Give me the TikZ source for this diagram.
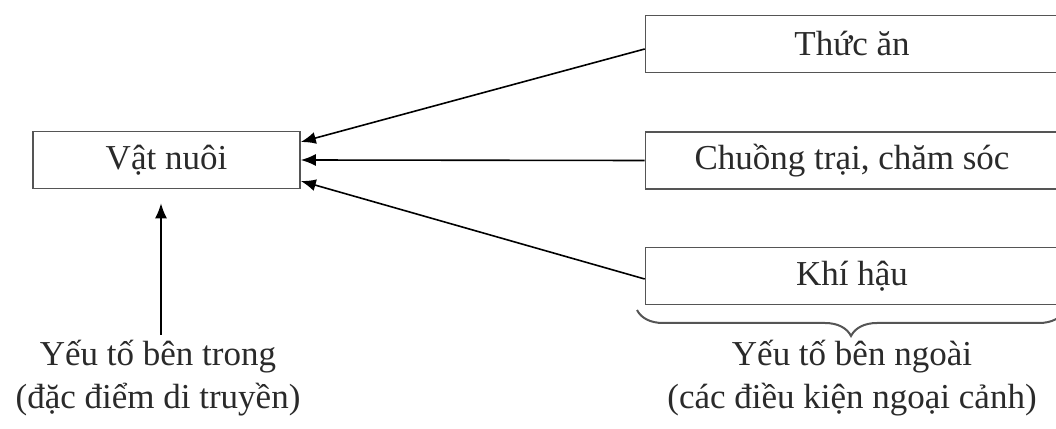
\documentclass[tikz,border=0pt]{standalone}
\usepackage{fontspec}
\setmainfont{Liberation Serif}
\usetikzlibrary{arrows.meta,decorations.pathreplacing}
\definecolor{boxline}{HTML}{555555}
\definecolor{txt}{HTML}{2A2A2A}
\begin{document}
\begin{tikzpicture}[x=1pt,y=1pt,
  every node/.style={font=\fontsize{35}{43}\selectfont, text=txt},
  factorbox/.style={draw=boxline, line width=1.6pt, minimum height=57pt, inner sep=0pt, anchor=center},
  arr/.style={draw=black, line width=1.6pt, -{Latex[length=15pt,width=12pt]}},
  label/.style={align=center, inner sep=0pt}]
\useasboundingbox (0,0) rectangle (1056,428);
\clip (0,0) rectangle (1056,428);
\node[factorbox, minimum width=267pt] (vat) at (166.5,268) {Vật nuôi};
\node[factorbox, minimum width=413pt] (thuc) at (852,384) {Thức ăn};
\node[factorbox, minimum width=413pt] (chuong) at (852,267.5) {Chuồng trại, chăm sóc};
\node[factorbox, minimum width=413pt] (khi) at (852,152) {Khí hậu};
\draw[arr] ([yshift=-5pt]thuc.west) -- ([yshift=18pt]vat.east);
\draw[arr] (chuong.west) -- (vat.east);
\draw[arr] ([yshift=-3pt]khi.west) -- ([yshift=-21pt]vat.east);
\node[label] (trong) at (158,50) {Yếu tố bên trong\\(đặc điểm di truyền)};
\node[label] (ngoai) at (852,50) {Yếu tố bên ngoài\\(các điều kiện ngoại cảnh)};
\coordinate (arrbot) at (161,93);
\draw[arr] (arrbot) -- (arrbot |- vat.south) [shorten >=14pt];
\draw[boxline, line width=2pt, decorate, decoration={brace, amplitude=26pt}] (1065,118) -- (637,118);
\end{tikzpicture}
\end{document}
